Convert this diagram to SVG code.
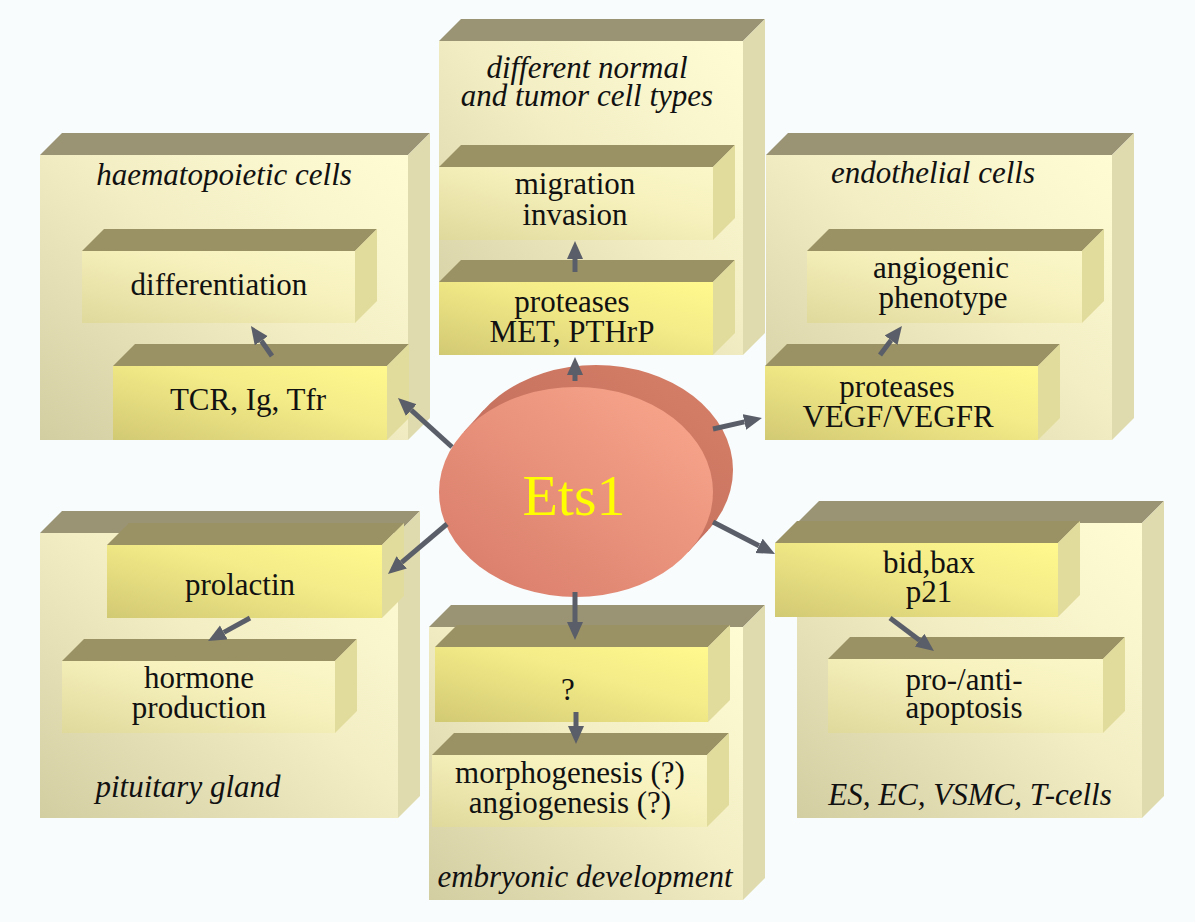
<svg xmlns="http://www.w3.org/2000/svg" width="1195" height="922" viewBox="0 0 1195 922">
<defs>
<linearGradient id="gBig" x1="0" y1="1" x2="1" y2="0">
<stop offset="0" stop-color="#d3cda2"/><stop offset="0.55" stop-color="#f3eec4"/><stop offset="1" stop-color="#fffcd4"/>
</linearGradient>
<linearGradient id="gPale" x1="0" y1="1" x2="1" y2="0">
<stop offset="0" stop-color="#e0d99c"/><stop offset="0.6" stop-color="#f6f1bc"/><stop offset="1" stop-color="#fbf7c8"/>
</linearGradient>
<linearGradient id="gBright" x1="0" y1="1" x2="1" y2="0">
<stop offset="0" stop-color="#d2c974"/><stop offset="0.6" stop-color="#f4ec88"/><stop offset="1" stop-color="#fff98e"/>
</linearGradient>
<linearGradient id="gEll" x1="0" y1="1" x2="1" y2="0">
<stop offset="0" stop-color="#d67a68"/><stop offset="1" stop-color="#fba88e"/>
</linearGradient>
<linearGradient id="gEllBack" x1="0" y1="1" x2="1" y2="0">
<stop offset="0" stop-color="#b86858"/><stop offset="1" stop-color="#d88068"/>
</linearGradient>
<marker id="ah" markerUnits="userSpaceOnUse" markerWidth="20" markerHeight="18" refX="0" refY="8" orient="auto">
<path d="M0,0 L18,8 L0,16 z" fill="#5a5e68"/>
</marker>
<style>
.top{fill:#9a9474}
.topi{fill:#9a9264}
.side{fill:#e0dbae}
.sidei{fill:#e2dc9c}
.big{fill:url(#gBig)}
.pale{fill:url(#gPale)}
.bright{fill:url(#gBright)}
text{font-family:'Liberation Serif','Times New Roman',serif}
.t{font-size:31px;fill:#111;text-anchor:middle}
.ti{font-size:31px;font-style:italic;fill:#111;text-anchor:middle}
.ets{font-size:58px;fill:#ffff00;text-anchor:middle}
.arr{stroke:#5a5e68;stroke-width:5;fill:none;marker-end:url(#ah)}
</style>
</defs>
<rect width="1195" height="922" fill="#f8fcfc"/>

<g id="box-haematopoietic">
<polygon class="top" points="40,155 62,133 430,133 408,155"/>
<polygon class="side" points="408,155 430,133 430,418 408,440"/>
<rect class="big" x="40" y="155" width="368" height="285"/>
<text class="ti" x="224" y="185">haematopoietic cells</text>
</g>
<g id="box-differentiation">
<polygon class="topi" points="82,251 104,229 377,229 355,251"/>
<polygon class="sidei" points="355,251 377,229 377,301 355,323"/>
<rect class="pale" x="82" y="251" width="273" height="72"/>
<text class="t" x="219" y="295">differentiation</text>
</g>
<g id="box-tcr">
<polygon class="topi" points="113,366 135,344 409,344 387,366"/>
<polygon class="sidei" points="387,366 409,344 409,418 387,440"/>
<rect class="bright" x="113" y="366" width="274" height="74"/>
<text class="t" x="248" y="410">TCR, Ig, Tfr</text>
</g>

<g id="box-tumor">
<polygon class="top" points="439,41 461,19 765,19 743,41"/>
<polygon class="side" points="743,41 765,19 765,333 743,355"/>
<rect class="big" x="439" y="41" width="304" height="314"/>
<text class="ti" x="587" y="78">different normal</text>
<text class="ti" x="587" y="106">and tumor cell types</text>
</g>
<g id="box-migration">
<polygon class="topi" points="439,167 461,145 735,145 713,167"/>
<polygon class="sidei" points="713,167 735,145 735,218 713,240"/>
<rect class="pale" x="439" y="167" width="274" height="73"/>
<text class="t" x="575" y="194">migration</text>
<text class="t" x="575" y="225">invasion</text>
</g>
<g id="box-proteases-met">
<polygon class="topi" points="439,282 461,260 735,260 713,282"/>
<polygon class="sidei" points="713,282 735,260 735,333 713,355"/>
<rect class="bright" x="439" y="282" width="274" height="73"/>
<text class="t" x="572" y="312">proteases</text>
<text class="t" x="572" y="342">MET, PTHrP</text>
</g>

<g id="box-endothelial">
<polygon class="top" points="766,155 788,133 1134,133 1112,155"/>
<polygon class="side" points="1112,155 1134,133 1134,418 1112,440"/>
<rect class="big" x="766" y="155" width="346" height="285"/>
<text class="ti" x="933" y="183">endothelial cells</text>
</g>
<g id="box-angiogenic">
<polygon class="topi" points="807,251 829,229 1104,229 1082,251"/>
<polygon class="sidei" points="1082,251 1104,229 1104,301 1082,323"/>
<rect class="pale" x="807" y="251" width="275" height="72"/>
<text class="t" x="941" y="278">angiogenic</text>
<text class="t" x="943" y="308">phenotype</text>
</g>
<g id="box-vegf">
<polygon class="topi" points="765,366 787,344 1060,344 1038,366"/>
<polygon class="sidei" points="1038,366 1060,344 1060,418 1038,440"/>
<rect class="bright" x="765" y="366" width="273" height="74"/>
<text class="t" x="897" y="397">proteases</text>
<text class="t" x="898" y="427">VEGF/VEGFR</text>
</g>

<g id="box-pituitary">
<polygon class="top" points="40,533 62,511 420,511 398,533"/>
<polygon class="side" points="398,533 420,511 420,796 398,818"/>
<rect class="big" x="40" y="533" width="358" height="285"/>
<text class="ti" x="188" y="797">pituitary gland</text>
</g>
<g id="box-prolactin">
<polygon class="topi" points="107,545 129,523 404,523 382,545"/>
<polygon class="sidei" points="382,545 404,523 404,596 382,618"/>
<rect class="bright" x="107" y="545" width="275" height="73"/>
<text class="t" x="240" y="595">prolactin</text>
</g>
<g id="box-hormone">
<polygon class="topi" points="62,661 84,639 357,639 335,661"/>
<polygon class="sidei" points="335,661 357,639 357,711 335,733"/>
<rect class="pale" x="62" y="661" width="273" height="72"/>
<text class="t" x="199" y="688">hormone</text>
<text class="t" x="199" y="718">production</text>
</g>

<g id="box-embryonic">
<polygon class="top" points="429,627 451,605 765,605 743,627"/>
<polygon class="side" points="743,627 765,605 765,878 743,900"/>
<rect class="big" x="429" y="627" width="314" height="273"/>
<text class="ti" x="585" y="887">embryonic development</text>
</g>
<g id="box-question">
<polygon class="topi" points="435,647 457,625 730,625 708,647"/>
<polygon class="sidei" points="708,647 730,625 730,700 708,722"/>
<rect class="bright" x="435" y="647" width="273" height="75"/>
<text class="t" x="568" y="700">?</text>
</g>
<g id="box-morphogenesis">
<polygon class="topi" points="432,755 454,733 729,733 707,755"/>
<polygon class="sidei" points="707,755 729,733 729,805 707,827"/>
<rect class="pale" x="432" y="755" width="275" height="72"/>
<text class="t" x="570" y="783">morphogenesis (?)</text>
<text class="t" x="570" y="813">angiogenesis (?)</text>
</g>

<g id="box-es">
<polygon class="top" points="797,523 819,501 1164,501 1142,523"/>
<polygon class="side" points="1142,523 1164,501 1164,796 1142,818"/>
<rect class="big" x="797" y="523" width="345" height="295"/>
<text class="ti" x="970" y="805">ES, EC, VSMC, T-cells</text>
</g>
<g id="box-bid">
<polygon class="topi" points="775,543 797,521 1080,521 1058,543"/>
<polygon class="sidei" points="1058,543 1080,521 1080,595 1058,617"/>
<rect class="bright" x="775" y="543" width="283" height="74"/>
<text class="t" x="929" y="573">bid,bax</text>
<text class="t" x="929" y="602">p21</text>
</g>
<g id="box-apoptosis">
<polygon class="topi" points="828,659 850,637 1125,637 1103,659"/>
<polygon class="sidei" points="1103,659 1125,637 1125,711 1103,733"/>
<rect class="pale" x="828" y="659" width="275" height="74"/>
<text class="t" x="964" y="690">pro-/anti-</text>
<text class="t" x="964" y="718">apoptosis</text>
</g>

<g id="node-ets1">
<ellipse cx="596" cy="470" rx="137" ry="105" fill="url(#gEllBack)"/>
<polygon points="688.3,552.1 708.3,530.1 483.7,409.9 463.7,431.9" fill="#c87262"/>
<ellipse cx="576" cy="492" rx="137" ry="105" fill="url(#gEll)"/>
<text class="ets" x="574" y="515">Ets1</text>
</g>

<g id="connectors">
<line class="arr" x1="452" y1="447" x2="411.3" y2="410.1"/>
<line class="arr" x1="575" y1="381" x2="575" y2="375"/>
<line class="arr" x1="713" y1="429" x2="744.4" y2="421.9"/>
<line class="arr" x1="447" y1="524" x2="401.7" y2="562.4"/>
<line class="arr" x1="575" y1="592" x2="575" y2="622"/>
<line class="arr" x1="713" y1="522" x2="759" y2="545.8"/>
<line class="arr" x1="272" y1="356" x2="261.3" y2="340.8"/>
<line class="arr" x1="575" y1="272" x2="575" y2="259"/>
<line class="arr" x1="880" y1="355" x2="891.1" y2="340.3"/>
<line class="arr" x1="250" y1="618" x2="223.8" y2="632.4"/>
<line class="arr" x1="576" y1="712" x2="576" y2="726"/>
<line class="arr" x1="890" y1="618" x2="919.6" y2="640.2"/>
</g>
</svg>
